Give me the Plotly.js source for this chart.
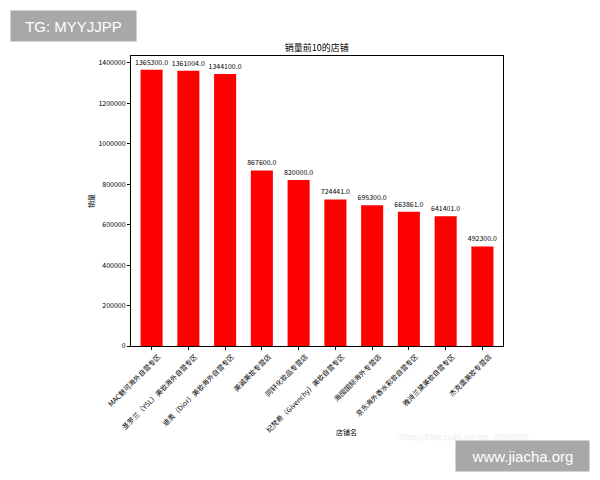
<!DOCTYPE html>
<html>
<head>
<meta charset="utf-8">
<script src="https://cdn.plot.ly/plotly-3.0.1.min.js"></script>
<style>html,body{margin:0;padding:0;background:#fff;}#chart{width:600px;height:480px;}</style>
</head>
<body>
<div id="chart"></div>
<script>
const shops = [
  "MAC魅可海外自营专区",
  "圣罗兰（YSL）美妆海外自营专区",
  "迪奥（Dior）美妆海外自营专区",
  "美诚美妆专营店",
  "同轩化妆品专营店",
  "纪梵希（Givenchy）美妆自营专区",
  "海囤国际海外专营店",
  "京东海外香水彩妆自营专区",
  "雅诗兰黛美妆自营专区",
  "杰克盛美妆专营店"
];
const sales = [1365300, 1361004, 1344100, 867600, 820000, 724441, 695300, 663861, 641401, 492300];
const yTicks = [0, 200000, 400000, 600000, 800000, 1000000, 1200000, 1400000];

const cjk = '"Noto Sans CJK SC", "DejaVu Sans", sans-serif';
const idx = shops.map((_, i) => i);

const trace = {
  type: 'bar',
  x: idx,
  y: sales,
  width: 0.6,
  marker: {color: '#ff0000', line: {width: 0}},
  text: sales.map(v => v.toFixed(1)),
  textposition: 'outside',
  textfont: {family: cjk, size: 7, color: '#000'},
  constraintext: 'none',
  cliponaxis: false,
  hoverinfo: 'x+y'
};

const layout = {
  width: 600, height: 480,
  margin: {l: 131, r: 97, t: 56, b: 134},
  paper_bgcolor: '#fff', plot_bgcolor: '#fff',
  showlegend: false,
  font: {family: cjk, color: '#000'},
  title: {text: '销量前10的店铺', font: {family: cjk, size: 9, color: '#000'}, x: 0.528, xanchor: 'center', y: 0.9, yanchor: 'middle'},
  xaxis: {
    range: [-0.56, 9.56],
    tickmode: 'array', tickvals: idx, ticktext: shops,
    tickangle: -45,
    ticklabelshift: 7,
    tickfont: {family: cjk, size: 7, color: '#000'},
    ticks: 'outside', ticklen: 3, tickcolor: '#000',
    showline: true, linecolor: '#000', linewidth: 1, mirror: true,
    showgrid: false, zeroline: false
  },
  yaxis: {
    range: [0, 1433565],
    tickmode: 'array', tickvals: yTicks, ticktext: yTicks.map(v => String(v)),
    tickfont: {family: cjk, size: 7, color: '#000'},
    ticks: 'outside', ticklen: 3, tickcolor: '#000',
    showline: true, linecolor: '#000', linewidth: 1, mirror: true,
    showgrid: false, zeroline: false,
    title: {text: '销量', font: {family: cjk, size: 7, color: '#000'}, standoff: 2}
  },
  annotations: [
    {xref: 'paper', yref: 'paper', x: (346 - 131) / 372, y: -(432 - 346) / 290, text: '店铺名', showarrow: false,
     font: {family: cjk, size: 7, color: '#000'}, xanchor: 'center', yanchor: 'middle'},
    {xref: 'paper', yref: 'paper', x: (395 - 131) / 372, y: -(436 - 346) / 290, text: 'https://blog.csdn.net/qq_43000000', showarrow: false,
     font: {family: cjk, size: 8, color: '#eeeeee'}, xanchor: 'left', yanchor: 'middle'},
    {xref: 'paper', yref: 'paper', x: (10 - 131) / 372, y: 1 + 46 / 290, xanchor: 'left', yanchor: 'top',
     text: 'TG: MYYJJPP', showarrow: false, bgcolor: '#a8a8a8', borderpad: 6, width: 113, height: 18,
     font: {family: 'Helvetica, Arial, "Liberation Sans", sans-serif', size: 15, color: '#fff'}},
    {xref: 'paper', yref: 'paper', x: 1 + 87 / 372, y: -94 / 290, xanchor: 'right', yanchor: 'top',
     text: 'www.jiacha.org', showarrow: false, bgcolor: '#a8a8a8', borderpad: 6, width: 121, height: 18,
     font: {family: 'Helvetica, Arial, "Liberation Sans", sans-serif', size: 15, color: '#fff'}}
  ]
};

Plotly.newPlot('chart', [trace], layout, {displayModeBar: false, staticPlot: true});
</script>
</body>
</html>
